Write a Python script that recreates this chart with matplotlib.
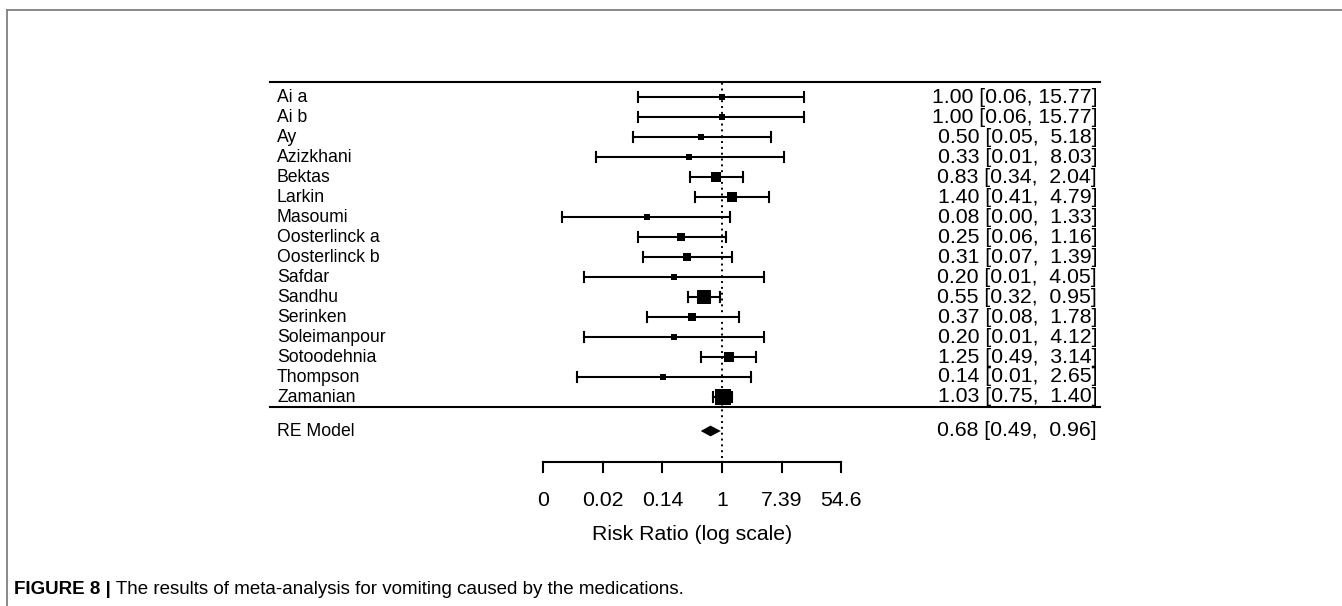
import matplotlib.pyplot as plt
from matplotlib.lines import Line2D
from matplotlib import font_manager
import numpy as np

plt.rcParams['font.family'] = ['Liberation Sans', 'DejaVu Sans']

# study data (risk ratio with 95% CI)
studies = ['Ai a', 'Ai b', 'Ay', 'Azizkhani', 'Bektas', 'Larkin', 'Masoumi',
           'Oosterlinck a', 'Oosterlinck b', 'Safdar', 'Sandhu', 'Serinken',
           'Soleimanpour', 'Sotoodehnia', 'Thompson', 'Zamanian']
rr = [1.00, 1.00, 0.50, 0.33, 0.83, 1.40, 0.08, 0.25, 0.31, 0.20, 0.55,
      0.37, 0.20, 1.25, 0.14, 1.03]
ci_low = [0.06, 0.06, 0.05, 0.0146, 0.34, 0.41, 0.0047, 0.06, 0.07, 0.0098,
          0.32, 0.08, 0.0099, 0.49, 0.0077, 0.75]
ci_high = [15.77, 15.77, 5.18, 8.03, 2.04, 4.79, 1.33, 1.16, 1.39, 4.05,
           0.95, 1.78, 4.12, 3.14, 2.65, 1.40]
# relative weights (square size)
weights = [6, 6, 6.5, 5.5, 11, 10, 6, 8.5, 8, 6, 13.5, 8, 6, 10, 6, 16]

re_est, re_low, re_high = 0.68, 0.49, 0.96

tick_vals = [-6, -4, -2, 0, 2, 4]
tick_labels = ['0', '0.02', '0.14', '1', '7.39', '54.6']

# narrow face for the study names if it is installed
try:
    font_manager.findfont('Liberation Sans Narrow', fallback_to_default=False)
    label_font = dict(family=['Liberation Sans Narrow'], fontsize=15.5)
except Exception:
    label_font = dict(family=['Liberation Sans'], fontsize=12.7)

W, H = 1342, 606
fig = plt.figure(figsize=(W / 100, H / 100), dpi=100)
ax = fig.add_axes([0, 0, 1, 1])

# pixel layout -> data units
px_per_unit = 29.8
x0_px = 722
row_px = 20
row1_px = 397
ax.set_xlim(-x0_px / px_per_unit, (W - x0_px) / px_per_unit)
ax.set_ylim(1 - (H - row1_px) / row_px, 1 + row1_px / row_px)
ax.axis('off')

k = len(studies)
rows = np.arange(k, 0, -1)
label_x = (277 - x0_px) / px_per_unit
text_x = (1097 - x0_px) / px_per_unit
line_l = (270 - x0_px) / px_per_unit
line_r = (1100 - x0_px) / px_per_unit
num_fs = 15.3
lw = 1.5
cap = 0.25

top_y = rows[0] + 0.75
sep_y = 0.5
re_y = -0.7
axis_y = -2.25

ax.plot([line_l, line_r], [top_y, top_y], color='black', lw=lw)
ax.plot([line_l, line_r], [sep_y, sep_y], color='black', lw=lw)
ax.plot([0, 0], [axis_y + 0.2, top_y], color='black', lw=1.4, ls=(0, (1, 2)))

for name, y, e, lo, hi, w in zip(studies, rows, rr, ci_low, ci_high, weights):
    le, llo, lhi = np.log(e), np.log(lo), np.log(hi)
    ax.plot([llo, lhi], [y, y], color='black', lw=lw)
    ax.plot([llo, llo], [y - cap, y + cap], color='black', lw=lw)
    ax.plot([lhi, lhi], [y - cap, y + cap], color='black', lw=lw)
    ax.plot(le, y, marker='s', color='black', ms=w / 1.389, mew=0)
    ax.text(label_x, y, name, ha='left', va='center', **label_font)
    hs = f'{hi:.2f}'.rjust(5)
    ax.text(text_x, y, f'{e:.2f} [{lo:.2f}, {hs}]', fontsize=num_fs,
            ha='right', va='center')

# RE model diamond
le, llo, lhi = np.log(re_est), np.log(re_low), np.log(re_high)
ax.fill([llo, le, lhi, le], [re_y, re_y + 0.27, re_y, re_y - 0.27],
        color='black', lw=0)
ax.text(label_x, re_y, 'RE Model', ha='left', va='center', **label_font)
hs = f'{re_high:.2f}'.rjust(5)
ax.text(text_x, re_y, f'{re_est:.2f} [{re_low:.2f}, {hs}]',
        fontsize=num_fs, ha='right', va='center')

# x axis
ax.plot([tick_vals[0], tick_vals[-1]], [axis_y, axis_y], color='black', lw=lw)
for tv, tl in zip(tick_vals, tick_labels):
    ax.plot([tv, tv], [axis_y, axis_y - 0.5], color='black', lw=lw)
    ax.text(tv, axis_y - 1.95, tl, fontsize=num_fs, ha='center', va='center')
ax.text(np.mean([tick_vals[0], tick_vals[-1]]), axis_y - 3.65,
        'Risk Ratio (log scale)', fontsize=15.3, ha='center', va='center')

# figure frame and caption
fig.add_artist(Line2D([7 / W, 1], [1 - 10 / H, 1 - 10 / H], color='#808080', lw=1.3))
fig.add_artist(Line2D([7 / W, 7 / W], [0, 1 - 10 / H], color='#808080', lw=1.3))
t1 = fig.text(14 / W, 1 - 590 / H, 'FIGURE 8 |', fontsize=13.5,
              fontweight='bold', ha='left', va='center')
ax.annotate(' The results of meta-analysis for vomiting caused by the medications.',
            xy=(1, 0.5), xycoords=t1, fontsize=13.5, ha='left', va='center')

fig.savefig('out.png', dpi=100)
